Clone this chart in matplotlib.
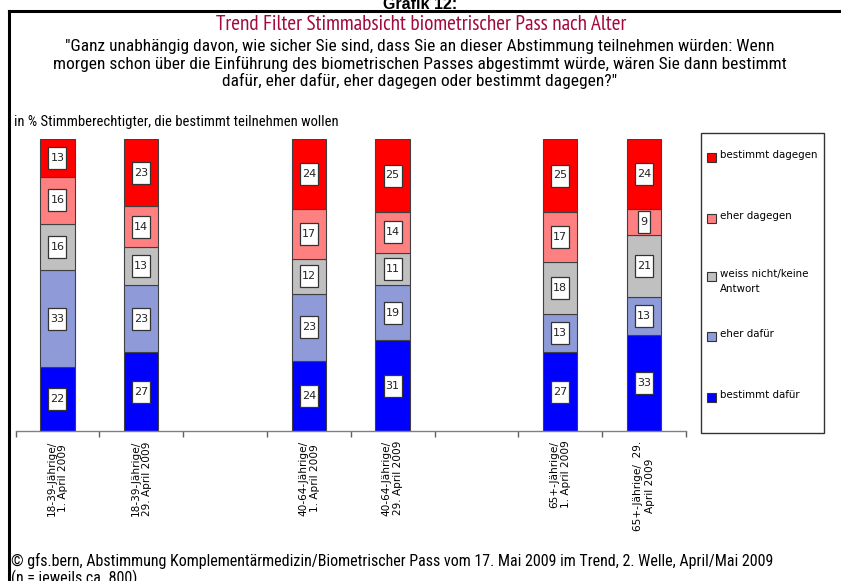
import numpy as np
import matplotlib
matplotlib.use("Agg")
import matplotlib.pyplot as plt
from matplotlib.patches import Rectangle
from matplotlib.lines import Line2D
from matplotlib.transforms import IdentityTransform

# ---------------- data ----------------
categories = ["18-39-Jährige/\n1. April 2009", "18-39-Jährige/\n29. April 2009", "",
              "40-64-Jährige/\n1. April 2009", "40-64-Jährige/\n29. April 2009", "",
              "65+-Jährige/\n1. April 2009", "65+-Jährige/  29.\nApril 2009"]
series_names = ["bestimmt dafür", "eher dafür", "weiss nicht/keine\nAntwort",
                "eher dagegen", "bestimmt dagegen"]
bestimmt_dafuer  = [22, 27, None, 24, 31, None, 27, 33]
eher_dafuer      = [33, 23, None, 23, 19, None, 13, 13]
weiss_nicht      = [16, 13, None, 12, 11, None, 18, 21]
eher_dagegen     = [16, 14, None, 17, 14, None, 17, 9]
bestimmt_dagegen = [13, 23, None, 24, 25, None, 25, 24]
series_values = [bestimmt_dafuer, eher_dafuer, weiss_nicht, eher_dagegen, bestimmt_dagegen]
series_colors = ["#0000FF", "#8E9BD8", "#C0C0C0", "#FF8080", "#FF0000"]

title = "Trend Filter Stimmabsicht biometrischer Pass nach Alter"
question = ("\"Ganz unabhängig davon, wie sicher Sie sind, dass Sie an dieser Abstimmung teilnehmen würden: Wenn\n"
            "morgen schon über die Einführung des biometrischen Passes abgestimmt würde, wären Sie dann bestimmt\n"
            "dafür, eher dafür, eher dagegen oder bestimmt dagegen?\"")
unit_note = "in % Stimmberechtigter, die bestimmt teilnehmen wollen"
footer = ("© gfs.bern, Abstimmung Komplementärmedizin/Biometrischer Pass vom 17. Mai 2009 im Trend, 2. Welle, April/Mai 2009\n"
          "(n = jeweils ca. 800)")
header = "Grafik 12:"

narrow = ["Roboto Condensed", "DejaVu Sans"]
title_font = ["PT Sans Narrow", "Roboto Condensed", "DejaVu Sans"]
plt.rcParams["font.family"] = ["DejaVu Sans"]

W, H = 841, 581
fig = plt.figure(figsize=(W / 100, H / 100), dpi=100)

# overlay in pixel coordinates for decorations
ov = fig.add_axes([0, 0, 1, 1], zorder=0)
ov.set_xlim(0, W)
ov.set_ylim(H, 0)
ov.axis("off")

# main chart axes
x0, x1 = 15.5, 686
ybase, ytop = 431, 139
ax = fig.add_axes([x0 / W, (H - ybase) / H, (x1 - x0) / W, (ybase - ytop) / H], zorder=2)
ax.patch.set_alpha(0)
n = len(categories)
ax.set_xlim(-0.5, n - 0.5)
ax.set_ylim(0, 100)

xs = np.arange(n)
bottom = np.zeros(n)
labels = []
for vals, col in zip(series_values, series_colors):
    v = np.array([np.nan if a is None else a for a in vals], dtype=float)
    ok = ~np.isnan(v)
    ax.bar(xs[ok], v[ok], bottom=bottom[ok], width=0.41, color=col,
           edgecolor="#404040", linewidth=0.8, zorder=2)
    for xi, vi, bi in zip(xs[ok], v[ok], bottom[ok]):
        labels.append((xi, bi + vi / 2, f"{int(vi)}"))
    bottom[ok] += v[ok]

fig.canvas.draw()
for xi, yi, s in labels:
    px, py = ax.transData.transform((xi, yi))
    bw = 6.5 * len(s) + 5
    bh = 22
    ax.add_patch(Rectangle((px - bw / 2, py - bh / 2), bw, bh, transform=IdentityTransform(),
                           fc="white", ec="#333333", lw=0.9, zorder=5, clip_on=False))
    ax.text(xi, yi, s, ha="center", va="center", fontsize=8, color="#222222", zorder=6)

for s in ["left", "right", "top"]:
    ax.spines[s].set_visible(False)
ax.spines["bottom"].set_color("#808080")
ax.spines["bottom"].set_linewidth(1.0)
ax.set_yticks([])
ax.set_xticks(np.arange(-0.5, n, 1.0))
ax.set_xticklabels([])
ax.tick_params(axis="x", which="major", length=4, width=1, color="#606060", direction="out")
ax.set_xticks(xs, minor=True)
ax.set_xticklabels(categories, minor=True, rotation=90, fontsize=7.6, va="top",
                   ha="center", multialignment="center")
ax.tick_params(axis="x", which="minor", length=0, pad=7)

# borders
ov.add_line(Line2D([9.5, 9.5], [11, H], color="black", lw=2.2))
ov.add_line(Line2D([9.5, W], [11, 11], color="black", lw=2.2))

# texts
ov.text(420, 9, header, ha="center", va="baseline", fontsize=11.5, fontweight="bold",
        family=["Liberation Sans", "DejaVu Sans"])
ov.text(421, 24, title, ha="center", va="center", fontsize=15.3, color="#A3093F", family=title_font)
ov.text(420, 64, question, ha="center", va="center", fontsize=12.5, color="black",
        family=narrow, linespacing=1.12)
ov.text(14, 122, unit_note, ha="left", va="center", fontsize=10.5, family=narrow)
ov.text(11, 570, footer, ha="left", va="center", fontsize=11.5, family=narrow, linespacing=1.05)

# legend (manual box)
ov.add_patch(Rectangle((701, 133), 123, 300, fc="white", ec="#333333", lw=1.0, zorder=1))
leg_y = [397, 336, 276, 218, 157]
for name, col, yy in zip(series_names, series_colors, leg_y):
    ov.add_patch(Rectangle((707, yy - 4.5), 9, 9, fc=col, ec="#333333", lw=0.8, zorder=2))
    ov.text(720, yy - 7, name, ha="left", va="top", fontsize=7.4, zorder=3,
            linespacing=1.6)

fig.savefig("out.png", dpi=100)
